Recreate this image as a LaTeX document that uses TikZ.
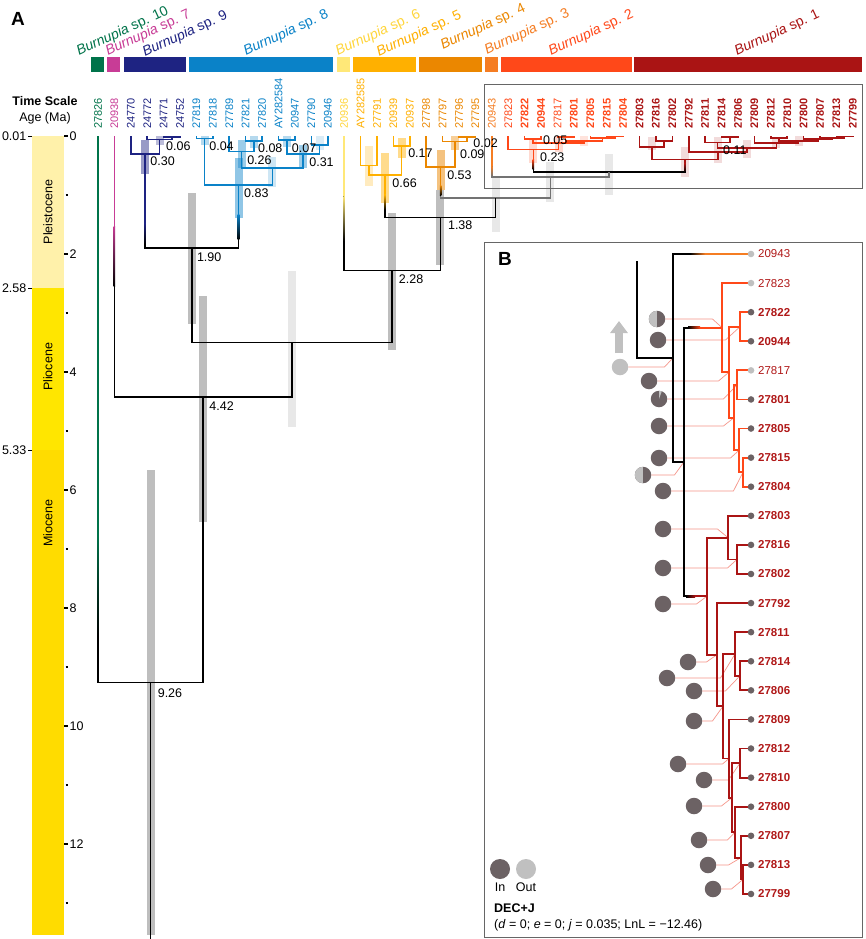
\documentclass[tikz,border=0pt]{standalone}
\usepackage{fontspec}
\setmainfont{Liberation Sans}
\usetikzlibrary{calc,positioning,arrows.meta}

% clade colours (Burnupia sp. 1--10)
\definecolor{c10}{RGB}{0,115,74}
\definecolor{c7}{RGB}{200,60,150}
\definecolor{c9}{RGB}{30,35,130}
\definecolor{c8}{RGB}{10,130,200}
\definecolor{c6}{RGB}{255,232,120}
\definecolor{c6t}{RGB}{255,214,60}
\definecolor{c5}{RGB}{255,176,0}
\definecolor{c4}{RGB}{235,135,0}
\definecolor{c3}{RGB}{245,125,35}
\definecolor{c2}{RGB}{255,72,25}
\definecolor{c1}{RGB}{170,20,20}
\definecolor{blab}{RGB}{176,24,24}
\definecolor{hpd}{RGB}{190,190,190}
\definecolor{hpdl}{RGB}{232,232,232}
\definecolor{incol}{RGB}{108,98,100}
\definecolor{outcol}{RGB}{192,192,192}
\definecolor{conn}{RGB}{246,150,138}
\definecolor{pleis}{RGB}{255,241,170}
\definecolor{plio}{RGB}{255,230,0}
\definecolor{mio}{RGB}{255,220,0}

% node at mid x of two children, y from age (Ma): y = 136 + 59*age
\newcommand\nd[4]{\path let \p1=(#2), \p2=(#3) in coordinate (#1) at ({(\x1+\x2)/2},{136+59*#4});}
% panel B node: given x, mid y of two children
\newcommand\ndb[4]{\path let \p1=(#2), \p2=(#3) in coordinate (#1) at (#4,{(\y1+\y2)/2});}
\newcommand\clade[4]{\draw[#1] (#3) |- (#2) -| (#4);}
\newcommand\bclade[4]{\draw[#1] (#3) -| (#2) |- (#4);}
\newcommand\hpdbar[4]{\path[fill=#1] let \p1=(#2) in (\x1-4pt,#3) rectangle (\x1+4pt,#4);}
\newcommand\vfade[5]{%
  \fill[#1] ($(#2)+(-.8,0)$) rectangle ($(#2)+(.8,#3)$);
  \shade[top color=#1,bottom color=#5] ($(#2)+(-.8,#3)$) rectangle ($(#2)+(.8,{#3+#4})$);}
\newcommand\hfade[4]{%
  \fill[#1] ($(#2)+(-#3,-.9)$) rectangle ($(#2)+(0,.9)$);
  \shade[left color=black,right color=#1] ($(#2)+({-#3-#4},-.9)$) rectangle ($(#2)+(-#3,.9)$);}

\begin{document}
\begin{tikzpicture}[x=1pt, y=-1pt,
  treeline/.style={line width=1.6pt},
  btreeline/.style={line width=1.8pt},
  treegray/.style={draw=black!55},
  tiplab/.style={rotate=90, anchor=west, inner sep=0pt, font={\fontsize{11}{13}\selectfont}},
  agelab/.style={anchor=west, inner sep=0pt, font={\fontsize{12.5}{14}\selectfont}},
  splab/.style={rotate=25, anchor=base west, inner sep=0pt, font={\fontsize{14}{15}\selectfont}},
  axlab/.style={inner sep=0pt, font={\fontsize{12.5}{14}\selectfont}},
  epoch/.style={rotate=90, font={\fontsize{12.5}{14}\selectfont}},
  axtick/.style={line width=1.3pt},
  piebase/.style={circle, minimum size=16.5pt, inner sep=0pt},
  pieIn/.style={piebase, fill=incol},
  pieOut/.style={piebase, fill=outcol},
  pieHalf/.style={piebase, fill=incol, path picture={\fill[outcol] (path picture bounding box.south west) rectangle (path picture bounding box.north);}},
  pieWedge/.style={piebase, fill=incol, path picture={\fill[outcol] (path picture bounding box.center) -- (path picture bounding box.north) -- ++(3pt,0) -- cycle;}},
  dotIn/.style={circle, fill=incol, minimum size=6.6pt, inner sep=0pt},
  dotOut/.style={circle, fill=outcol, minimum size=6.6pt, inner sep=0pt},
  blabIn/.style={anchor=west, inner sep=0pt, text=blab, font={\bfseries\fontsize{11.5}{13}\selectfont}},
  blabOut/.style={anchor=west, inner sep=0pt, text=blab, font={\fontsize{11.5}{13}\selectfont}},
  connline/.style={conn, line width=.7pt},
  boxline/.style={draw=black!60, line width=.9pt}]

\fill[white] (0,0) rectangle (865,939);
\useasboundingbox (0,0) rectangle (865,939);

% ---- time scale
\node[font={\bfseries\fontsize{19}{20}\selectfont}] at (18,19) {A};
\node[font={\bfseries\fontsize{12.5}{14}\selectfont}] at (45,101) {Time Scale};
\node[axlab] at (45,118) {Age (Ma)};
\fill[pleis] (32,136) rectangle (64,288);
\fill[plio] (32,288) rectangle (64,450);
\fill[mio] (32,450) rectangle (64,935);
\node[epoch] at (48,212) {Pleistocene};
\node[epoch] at (48,367) {Pliocene};
\node[epoch] at (48,523) {Miocene};
\foreach \t in {0,2,...,12}
  \draw[axtick] (64,{136+59*\t}) -- ++(4,0) node[axlab, anchor=west, xshift=1pt] {\t};
\foreach \t in {1,3,...,13}
  \draw[axtick] (65.5,{136+59*\t}) -- ++(2.5,0);
\foreach \a in {0.01,2.58,5.33}
  \draw[axtick] (32,{136+59*\a}) -- ++(-4,0) node[axlab, anchor=east, xshift=-1pt] {\a};

% ---- species bars
\fill[c10] (91,57) rectangle (104,72);
\fill[c7] (107,57) rectangle (120,72);
\fill[c9] (124,57) rectangle (186,72);
\fill[c8] (189,57) rectangle (333,72);
\fill[c6] (337,57) rectangle (350,72);
\fill[c5] (353,57) rectangle (416,72);
\fill[c4] (419,57) rectangle (482,72);
\fill[c3] (485,57) rectangle (498,72);
\fill[c2] (501,57) rectangle (632,72);
\fill[c1] (634,57) rectangle (862,72);
\node[splab, text=c10] at (79,56) {\textit{Burnupia} sp. 10};
\node[splab, text=c7] at (108,56) {\textit{Burnupia} sp. 7};
\node[splab, text=c9] at (145,57) {\textit{Burnupia} sp. 9};
\node[splab, text=c8] at (246,56) {\textit{Burnupia} sp. 8};
\node[splab, text=c6t] at (338,56) {\textit{Burnupia} sp. 6};
\node[splab, text=c5] at (379,57) {\textit{Burnupia} sp. 5};
\node[splab, text=c4] at (443,50) {\textit{Burnupia} sp. 4};
\node[splab, text=c3] at (487,55) {\textit{Burnupia} sp. 3};
\node[splab, text=c2] at (551,56) {\textit{Burnupia} sp. 2};
\node[splab, text=c1] at (737,56) {\textit{Burnupia} sp. 1};

% ---- tips of panel A
\foreach \lab/\col [count=\i from 0] in {27826/c10, 20938/c7, 24770/c9, 24772/c9, 24771/c9, 24752/c9,
  27819/c8, 27818/c8, 27789/c8, 27821/c8, 27820/c8, AY282584/c8, 20947/c8, 27790/c8, 20946/c8,
  20936/c6t, AY282585/c5, 27791/c5, 20939/c5, 20937/c5, 27798/c4, 27797/c4, 27796/c4, 27795/c4,
  20943/c3, 27823/c2, \textbf{27822}/c2, \textbf{20944}/c2, 27817/c2, \textbf{27801}/c2,
  \textbf{27805}/c2, \textbf{27815}/c2, \textbf{27804}/c2, \textbf{27803}/c1, \textbf{27816}/c1,
  \textbf{27802}/c1, \textbf{27792}/c1, \textbf{27811}/c1, \textbf{27814}/c1, \textbf{27806}/c1,
  \textbf{27809}/c1, \textbf{27812}/c1, \textbf{27810}/c1, \textbf{27800}/c1, \textbf{27807}/c1,
  \textbf{27813}/c1, \textbf{27799}/c1}
{
  \coordinate (t\i) at ({98+16.41*\i},136);
  \node[tiplab, text=\col] at ({98+16.41*\i},129) {\lab};
}

% sp. 9 and sp. 8
\nd{s9a}{t4}{t5}{0.02}
\nd{s9b}{t3}{s9a}{0.06}
\nd{s9c}{t2}{s9b}{0.30}
\nd{s8a}{t6}{t7}{0.04}
\nd{s8b}{t9}{t10}{0.08}
\nd{s8c}{t8}{s8b}{0.26}
\nd{s8d}{t11}{t12}{0.07}
\nd{s8e}{t13}{t14}{0.15}
\nd{s8f}{s8d}{s8e}{0.31}
\nd{s8g}{s8c}{s8f}{0.54}
\nd{s8h}{s8a}{s8g}{0.83}
\nd{n190}{s9c}{s8h}{1.90}
% sp. 5 and sp. 4
\nd{s5a}{t16}{t17}{0.50}
\nd{s5b}{t18}{t19}{0.17}
\nd{s5c}{s5a}{s5b}{0.66}
\nd{s4a}{t22}{t23}{0.02}
\nd{s4b}{t21}{s4a}{0.09}
\nd{s4c}{t20}{s4b}{0.53}
% sp. 2
\nd{s2a}{t26}{t27}{0.05}
\nd{s2b}{t28}{t29}{0.02}
\nd{s2c}{t31}{t32}{0.01}
\nd{s2d}{t30}{s2c}{0.03}
\nd{s2e}{s2b}{s2d}{0.08}
\nd{s2f}{s2a}{s2e}{0.12}
\nd{s2g}{t25}{s2f}{0.23}
% sp. 1
\nd{s1a}{t34}{t35}{0.08}
\nd{s1b}{t33}{s1a}{0.19}
\nd{s1c}{t38}{t39}{0.02}
\nd{s1d}{t37}{s1c}{0.11}
\nd{s1e}{t41}{t42}{0.03}
\nd{s1f}{t45}{t46}{0.01}
\nd{s1g}{t44}{s1f}{0.03}
\nd{s1h}{t43}{s1g}{0.05}
\nd{s1i}{s1e}{s1h}{0.08}
\nd{s1j}{t40}{s1i}{0.12}
\nd{s1k}{s1d}{s1j}{0.20}
\nd{s1l}{t36}{s1k}{0.27}
\nd{s1m}{s1b}{s1l}{0.40}
% backbone
\nd{m1}{s2g}{s1m}{0.61}
\nd{m2}{t24}{m1}{0.69}
\nd{m3}{s4c}{m2}{1.05}
\nd{n138}{s5c}{m3}{1.38}
\nd{n228}{t15}{n138}{2.28}
\nd{m4}{n190}{n228}{3.50}
\nd{n442}{t1}{m4}{4.42}
\nd{n926}{t0}{n442}{9.26}

% HPD bars
\hpdbar{hpd}{n926}{470}{935}
\hpdbar{hpd}{n442}{296}{522}
\hpdbar{hpd}{n190}{193}{324}
\hpdbar{hpd}{n228}{213}{350}
\hpdbar{hpd}{n138}{190}{265}
\hpdbar{hpdl}{m4}{271}{427}
\hpdbar{hpdl}{m3}{177}{232}
\hpdbar{hpdl}{m2}{162}{202}
\hpdbar{hpdl}{m1}{154}{195}
\hpdbar{c9,fill opacity=.45}{s9c}{140}{174}
\hpdbar{c9,fill opacity=.3}{s9b}{136}{145}
\hpdbar{c8,fill opacity=.45}{s8h}{158}{218}
\hpdbar{c8,fill opacity=.2}{s8g}{157}{187}
\hpdbar{c8,fill opacity=.4}{s8c}{140}{168}
\hpdbar{c8,fill opacity=.4}{s8f}{145}{168}
\hpdbar{c8,fill opacity=.3}{s8a}{136}{145}
\hpdbar{c8,fill opacity=.3}{s8b}{136}{148}
\hpdbar{c8,fill opacity=.3}{s8d}{136}{147}
\hpdbar{c8,fill opacity=.15}{s8e}{136}{150}
\hpdbar{c5,fill opacity=.45}{s5c}{153}{203}
\hpdbar{c5,fill opacity=.25}{s5a}{146}{186}
\hpdbar{c5,fill opacity=.45}{s5b}{138}{158}
\hpdbar{c4,fill opacity=.5}{s4c}{150}{190}
\hpdbar{c4,fill opacity=.4}{s4b}{136}{150}
\hpdbar{c2,fill opacity=.2}{s2g}{138}{163}
\hpdbar{c2,fill opacity=.2}{s2f}{136}{152}
\hpdbar{c2,fill opacity=.15}{s2e}{136}{146}
\hpdbar{c1,fill opacity=.15}{s1m}{147}{177}
\hpdbar{c1,fill opacity=.15}{s1l}{137}{163}
\hpdbar{c1,fill opacity=.15}{s1k}{140}{158}
\hpdbar{c1,fill opacity=.15}{s1b}{137}{150}
\hpdbar{c1,fill opacity=.15}{s1j}{137}{148}
\hpdbar{c1,fill opacity=.15}{s1i}{136}{146}

% branches
\clade{treeline,c9}{s9a}{t4}{t5}
\clade{treeline,c9}{s9b}{t3}{s9a}
\clade{treeline,c9}{s9c}{t2}{s9b}
\clade{treeline,c8}{s8a}{t6}{t7}
\clade{treeline,c8}{s8b}{t9}{t10}
\clade{treeline,c8}{s8c}{t8}{s8b}
\clade{treeline,c8}{s8d}{t11}{t12}
\clade{treeline,c8}{s8e}{t13}{t14}
\clade{treeline,c8}{s8f}{s8d}{s8e}
\clade{treeline,c8}{s8g}{s8c}{s8f}
\clade{treeline,c8}{s8h}{s8a}{s8g}
\clade{treeline,c5}{s5a}{t16}{t17}
\clade{treeline,c5}{s5b}{t18}{t19}
\clade{treeline,c5}{s5c}{s5a}{s5b}
\clade{treeline,c4}{s4a}{t22}{t23}
\clade{treeline,c4}{s4b}{t21}{s4a}
\clade{treeline,c4}{s4c}{t20}{s4b}
\clade{treeline,c2}{s2a}{t26}{t27}
\clade{treeline,c2}{s2b}{t28}{t29}
\clade{treeline,c2}{s2c}{t31}{t32}
\clade{treeline,c2}{s2d}{t30}{s2c}
\clade{treeline,c2}{s2e}{s2b}{s2d}
\clade{treeline,c2}{s2f}{s2a}{s2e}
\clade{treeline,c2}{s2g}{t25}{s2f}
\clade{treeline,c1}{s1a}{t34}{t35}
\clade{treeline,c1}{s1b}{t33}{s1a}
\clade{treeline,c1}{s1c}{t38}{t39}
\clade{treeline,c1}{s1d}{t37}{s1c}
\clade{treeline,c1}{s1e}{t41}{t42}
\clade{treeline,c1}{s1f}{t45}{t46}
\clade{treeline,c1}{s1g}{t44}{s1f}
\clade{treeline,c1}{s1h}{t43}{s1g}
\clade{treeline,c1}{s1i}{s1e}{s1h}
\clade{treeline,c1}{s1j}{t40}{s1i}
\clade{treeline,c1}{s1k}{s1d}{s1j}
\clade{treeline,c1}{s1l}{t36}{s1k}
\clade{treeline,c1}{s1m}{s1b}{s1l}
\clade{treeline}{m1}{s2g}{s1m}
\clade{treeline,treegray}{m2}{t24}{m1}
\clade{treeline,treegray}{m3}{s4c}{m2}
\clade{treeline}{n138}{s5c}{m3}
\clade{treeline}{n228}{t15}{n138}
\clade{treeline}{n190}{s9c}{s8h}
\clade{treeline}{m4}{n190}{n228}
\clade{treeline}{n442}{t1}{m4}
\clade{treeline}{n926}{t0}{n442}
\draw[treeline] (n926) -- ++(0,257);

% colour fading into the stems
\vfade{c10}{t0}{400}{100}{black}
\vfade{c7}{t1}{90}{60}{black}
\vfade{c9}{s9c}{70}{20}{black}
\vfade{c8}{s8h}{30}{25}{black}
\vfade{c6}{t15}{60}{45}{black}
\vfade{c5}{s5c}{20}{15}{black}
\vfade{c4}{s4c}{18}{10}{black}
\vfade{c3}{t24}{30}{10}{black!55}
\vfade{c2}{s2g}{10}{10}{black}
\vfade{c1}{s1m}{4}{8}{black}

% ages
\node[agelab] at ($(s9b)+(6.5,6.5)$) {0.06};
\node[agelab] at ($(s9c)+(5,7)$) {0.30};
\node[agelab] at ($(s8a)+(4.5,7.5)$) {0.04};
\node[agelab] at ($(s8b)+(4,7)$) {0.08};
\node[agelab] at ($(s8d)+(5,8)$) {0.07};
\node[agelab] at ($(s8c)+(5.5,8.5)$) {0.26};
\node[agelab] at ($(s8f)+(6,8)$) {0.31};
\node[agelab] at ($(s8h)+(5.5,8)$) {0.83};
\node[agelab] at ($(n190)+(5,9)$) {1.90};
\node[agelab] at ($(n442)+(6,9)$) {4.42};
\node[agelab] at ($(n926)+(7,11)$) {9.26};
\node[agelab] at ($(n228)+(6.5,8.5)$) {2.28};
\node[agelab] at ($(n138)+(7.5,7.5)$) {1.38};
\node[agelab] at ($(s5c)+(7,8)$) {0.66};
\node[agelab] at ($(s5b)+(6.5,7)$) {0.17};
\node[agelab] at ($(s4c)+(6.5,7.5)$) {0.53};
\node[agelab] at ($(s4b)+(5,12.7)$) {0.09};
\node[agelab] at ($(s4a)+(6,6)$) {0.02};
\node[agelab] at ($(s2a)+(10,1.5)$) {0.05};
\node[agelab] at ($(s2g)+(6.5,7.5)$) {0.23};
\node[agelab] at ($(s1d)+(5.5,7.5)$) {0.11};

\draw[boxline] (484,84) rectangle (862,188);

% ---- panel B
\draw[boxline] (484,242) rectangle (862,937);
\node[font={\bfseries\fontsize{19}{20}\selectfont}] at (505,259) {B};

\def\bTips{20943/Out, 27823/Out, 27822/In, 20944/In, 27817/Out, 27801/In, 27805/In, 27815/In,
  27804/In, 27803/In, 27816/In, 27802/In, 27792/In, 27811/In, 27814/In, 27806/In, 27809/In,
  27812/In, 27810/In, 27800/In, 27807/In, 27813/In, 27799/In}
\foreach \lab/\st [count=\j from 0] in \bTips
  \coordinate (b\j) at (751,{254+29.09*\j});

\ndb{A1}{b2}{b3}{740}
\ndb{A2}{b4}{b5}{737}
\ndb{A3}{b7}{b8}{743}
\ndb{A4}{b6}{A3}{739}
\ndb{A5}{A2}{A4}{734}
\ndb{A6}{A1}{A5}{729}
\ndb{A7}{b1}{A6}{722}
\ndb{C1}{b10}{b11}{737}
\ndb{C2}{b9}{C1}{728}
\ndb{D0}{b14}{b15}{740}
\ndb{B1}{b13}{D0}{735}
\ndb{B2}{b17}{b18}{740}
\ndb{B3}{b21}{b22}{743}
\ndb{B4}{b20}{B3}{741}
\ndb{B5}{b19}{B4}{735}
\ndb{B6}{B2}{B5}{732}
\ndb{B7}{b16}{B6}{729}
\ndb{B8}{B1}{B7}{723}
\ndb{B9}{b12}{B8}{717}
\ndb{C3}{C2}{B9}{707}
\ndb{R1}{A7}{C3}{684}
\ndb{R0}{b0}{R1}{673}
\coordinate (bstem) at (637,261);

% ancestral range pies and their leaders
\foreach \px/\py/\tg/\off/\ty [count=\k] in {657/319/A7/47/Half, 658/340/A1/59/In, 620/367/R0/36/Out,
  649/381/A6/61/In, 659/399/A2/56/Wedge, 659/426/A5/56/In, 659/458/A4/63/In, 643/475/R1/23/Half,
  663/491/A3/62/In, 663/529/C2/46/In, 663/568/C1/56/In, 663/604/C3/25/In, 688/662/B9/10/In,
  667/678/B1/45/In, 694/691/D0/23/In, 694/721/B8/10/In, 678/764/B7/36/In, 704/780/B2/16/In,
  694/806/B6/19/In, 699/840/B5/20/In, 708/865/B4/12/In, 713/889/B3/10/In}
{
  \node[pie\ty] (p\k) at (\px,\py) {};
  \draw[connline] (p\k.east) -- ++(\off,0) -- (\tg);
}

\bclade{btreeline,c2}{A1}{b2}{b3}
\bclade{btreeline,c2}{A2}{b4}{b5}
\bclade{btreeline,c2}{A3}{b7}{b8}
\bclade{btreeline,c2}{A4}{b6}{A3}
\bclade{btreeline,c2}{A5}{A2}{A4}
\bclade{btreeline,c2}{A6}{A1}{A5}
\bclade{btreeline,c2}{A7}{b1}{A6}
\bclade{btreeline,c1}{C1}{b10}{b11}
\bclade{btreeline,c1}{C2}{b9}{C1}
\bclade{btreeline,c1}{D0}{b14}{b15}
\bclade{btreeline,c1}{B1}{b13}{D0}
\bclade{btreeline,c1}{B2}{b17}{b18}
\bclade{btreeline,c1}{B3}{b21}{b22}
\bclade{btreeline,c1}{B4}{b20}{B3}
\bclade{btreeline,c1}{B5}{b19}{B4}
\bclade{btreeline,c1}{B6}{B2}{B5}
\bclade{btreeline,c1}{B7}{b16}{B6}
\bclade{btreeline,c1}{B8}{B1}{B7}
\bclade{btreeline,c1}{B9}{b12}{B8}
\bclade{btreeline,c1}{C3}{C2}{B9}
\bclade{btreeline}{R1}{A7}{C3}
\bclade{btreeline}{R0}{b0}{R1}
\draw[btreeline] (R0) -| (bstem);
\hfade{c3}{b0}{46}{15}
\hfade{c2}{A7}{22}{12}
\hfade{c1}{C3}{12}{9}

\foreach \lab/\st [count=\j from 0] in \bTips
{
  \node[dot\st] at (b\j) {};
  \node[blab\st] at ($(b\j)+(7,0)$) {\lab};
}

\draw[outcol, line width=7.5pt, -{Triangle[width=17pt,length=12pt]}] (619,353) -- (619,321);

% legend
\node[pieIn, minimum size=20pt] (legin) at (500,869) {};
\node[pieOut, minimum size=20pt] (legout) at (526,869) {};
\node[axlab, below=3pt of legin] {In};
\node[axlab, below=3pt of legout] {Out};
\node[anchor=west, inner sep=0pt, font={\bfseries\fontsize{12.5}{14}\selectfont}] at (494,908) {DEC+J};
\node[anchor=west, inner sep=0pt, font={\fontsize{12.5}{14}\selectfont}] at (494,925)
  {(\textit{d} = 0; \textit{e} = 0; \textit{j} = 0.035; LnL = −12.46)};
\end{tikzpicture}
\end{document}
